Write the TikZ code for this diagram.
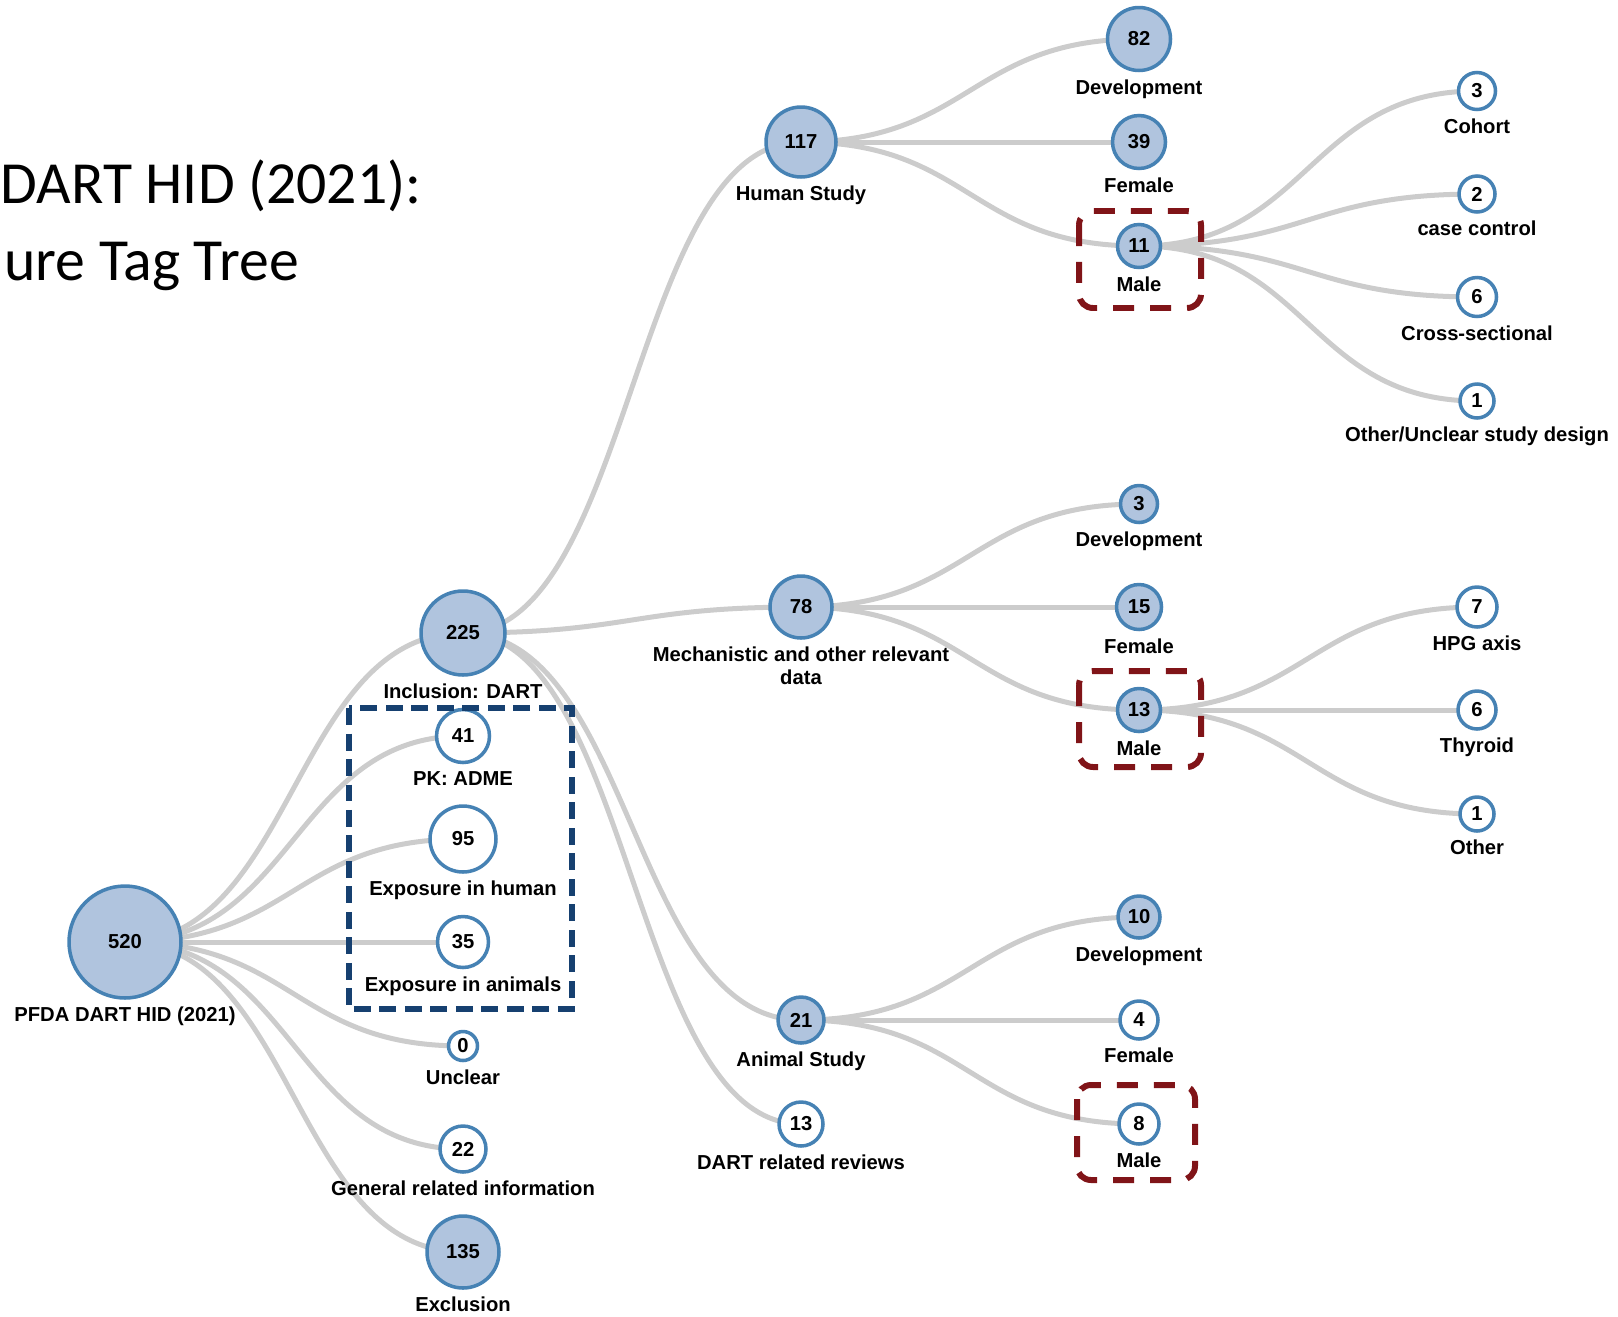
\documentclass[tikz,border=0pt]{standalone}
\usepackage{fontspec}
\usepackage{tikz}
\usetikzlibrary{calc}
\usetikzlibrary{backgrounds}
\newfontfamily\tagfont{Liberation Sans}
\newfontfamily\titlefont{Carlito}
\definecolor{tagblue}{RGB}{70,130,180}
\definecolor{tagfill}{RGB}{176,196,222}
\definecolor{linkgray}{RGB}{204,204,204}
\definecolor{boxblue}{RGB}{22,64,112}
\definecolor{boxred}{RGB}{128,20,24}

\tikzset{
  tagtext/.style={font=\tagfont\bfseries\fontsize{11.5}{13}\selectfont, text=black, inner sep=0pt},
  tagfull/.style={circle, draw=tagblue, line width=2pt, fill=tagfill, minimum size=#1*0.2mm, tagtext},
  tagopen/.style={tagfull=#1, fill=white},
  tagname/.style={label={[tagtext, align=center]below:{#1}}},
  linkline/.style={draw=linkgray, line width=2.85pt},
  bluebox/.style={draw=boxblue, line width=3.3pt, dash pattern=on 0.34cm off 0.17cm},
  redbox/.style={draw=boxred, line width=3.4pt, rounded corners=0.28cm, dash pattern=on 0.42cm off 0.32cm},
  titletext/.style={font=\titlefont\fontsize{34}{40}\selectfont, inner sep=0pt, anchor=base east},
}

\newcommand{\conn}[2]{%
  \draw[linkline] let \p1=(#1.center), \p2=(#2.center) in
    (\p1) .. controls ({0.5*(\x1+\x2)},\y1) and ({0.5*(\x1+\x2)},\y2) .. (\p2);}

\begin{document}
\begin{tikzpicture}[x=0.02cm, y=-0.02cm, label distance=4pt]
\useasboundingbox (0, 0) rectangle (1618, 1316);

% titolo
\node[titletext] (titleA) at (422, 203) {DART HID (2021):};
\node[titletext] (titleB) at (299, 280) {ure Tag Tree};

% radice
\node[tagfull=112, tagname={PFDA DART HID (2021)}] (root) at (125, 942) {520};

% livello 1
\node[tagfull=84, tagname={Inclusion: DART}] (incl) at (463, 633) {225};
\node[tagopen=53, tagname={PK: ADME}] (pk) at (463, 736) {41};
\node[tagopen=66, tagname={Exposure in human}] (exphum) at (463, 839) {95};
\node[tagopen=51, tagname={Exposure in animals}] (expani) at (463, 942) {35};
\node[tagopen=29, tagname={Unclear}] (unclear) at (463, 1046) {0};
\node[tagopen=46, tagname={General related information}] (general) at (463, 1149) {22};
\node[tagfull=72, tagname={Exclusion}] (excl) at (463, 1252) {135};

% livello 2
\node[tagfull=70, tagname={Human Study}] (human) at (801, 142) {117};
\node[tagfull=62, tagname={Mechanistic and other relevant\\data}] (mech) at (801, 607) {78};
\node[tagfull=46, tagname={Animal Study}] (animal) at (801, 1020) {21};
\node[tagopen=44, tagname={DART related reviews}] (reviews) at (801, 1124) {13};

% livello 3
\node[tagfull=63, tagname={Development}] (hdev) at (1139, 39) {82};
\node[tagfull=53, tagname={Female}] (hfem) at (1139, 142) {39};
\node[tagfull=43, tagname={Male}] (hmale) at (1139, 246) {11};
\node[tagfull=37, tagname={Development}] (mdev) at (1139, 504) {3};
\node[tagfull=45, tagname={Female}] (mfem) at (1139, 607) {15};
\node[tagfull=43, tagname={Male}] (mmale) at (1139, 710) {13};
\node[tagfull=42, tagname={Development}] (adev) at (1139, 917) {10};
\node[tagopen=38, tagname={Female}] (afem) at (1139, 1020) {4};
\node[tagopen=40, tagname={Male}] (amale) at (1139, 1124) {8};

% livello 4
\node[tagopen=37, tagname={Cohort}] (cohort) at (1477, 91) {3};
\node[tagopen=36, tagname={case control}] (casectl) at (1477, 194) {2};
\node[tagopen=39, tagname={Cross-sectional}] (cross) at (1477, 297) {6};
\node[tagopen=34, tagname={Other/Unclear study design}] (hother) at (1477, 401) {1};
\node[tagopen=40, tagname={HPG axis}] (hpg) at (1477, 607) {7};
\node[tagopen=38, tagname={Thyroid}] (thyroid) at (1477, 710) {6};
\node[tagopen=34, tagname={Other}] (mother) at (1477, 814) {1};

% rami
\begin{scope}[on background layer]
\foreach \kid in {incl, pk, exphum, expani, unclear, general, excl} {
    \conn{root}{\kid}
}
\foreach \kid in {human, mech, animal, reviews} {
    \conn{incl}{\kid}
}
\foreach \kid in {hdev, hfem, hmale} {
    \conn{human}{\kid}
}
\foreach \kid in {cohort, casectl, cross, hother} {
    \conn{hmale}{\kid}
}
\foreach \kid in {mdev, mfem, mmale} {
    \conn{mech}{\kid}
}
\foreach \kid in {hpg, thyroid, mother} {
    \conn{mmale}{\kid}
}
\foreach \kid in {adev, afem, amale} {
    \conn{animal}{\kid}
}
\end{scope}

% riquadri
\draw[bluebox] (349, 708) rectangle (572, 1009);
\draw[redbox] (1079, 211) rectangle (1201, 308);
\draw[redbox] (1079, 671) rectangle (1201, 767);
\draw[redbox] (1077, 1085) rectangle (1195, 1180);
\end{tikzpicture}
\end{document}
